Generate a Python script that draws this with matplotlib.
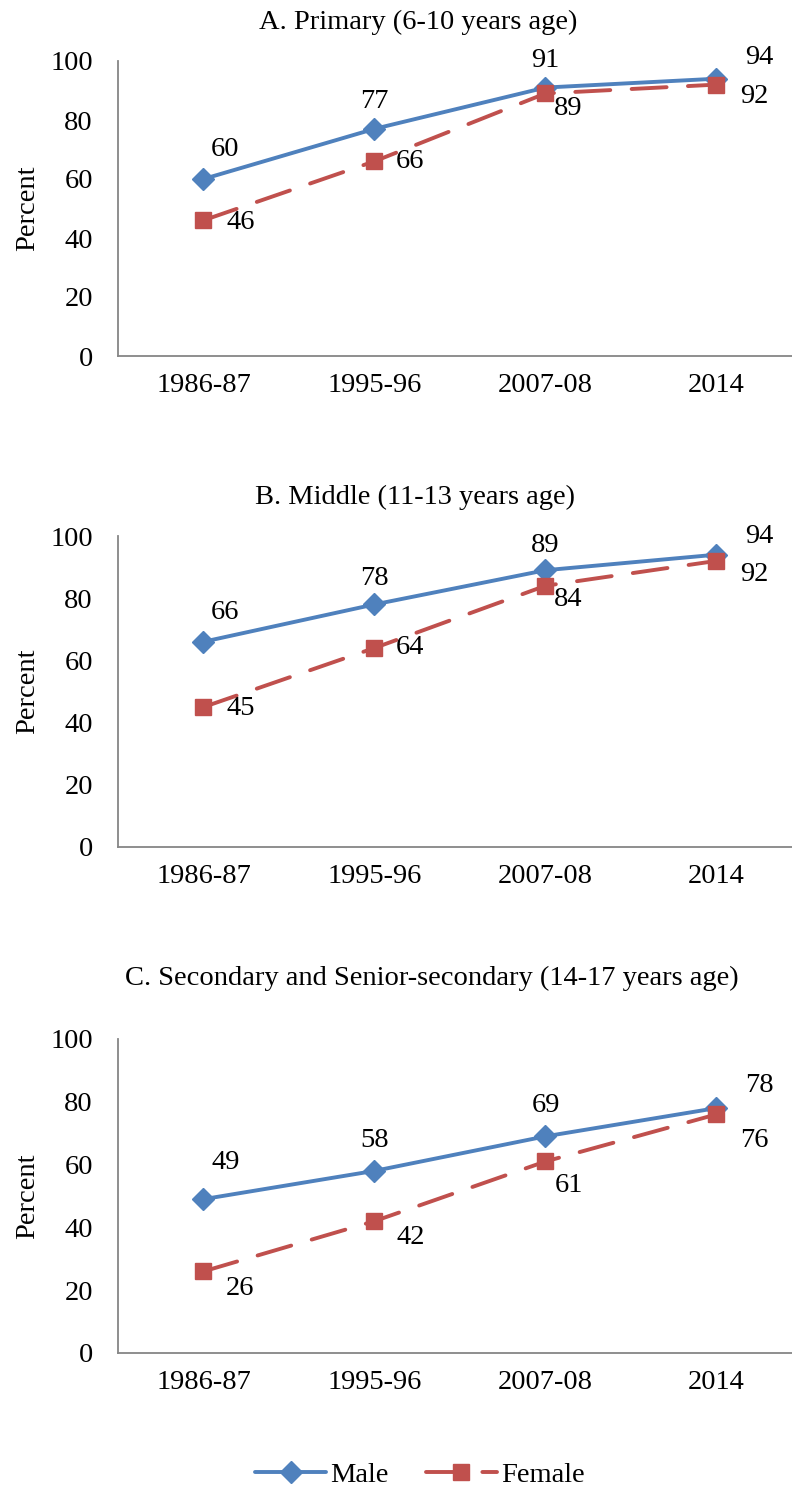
import matplotlib.pyplot as plt

plt.rcParams["font.family"] = ["Liberation Serif", "DejaVu Serif"]

years = ["1986-87", "1995-96", "2007-08", "2014"]
titles = ["A. Primary (6-10 years age)",
          "B. Middle (11-13 years age)",
          "C. Secondary and Senior-secondary (14-17 years age)"]
male = [[60, 77, 91, 94], [66, 78, 89, 94], [49, 58, 69, 78]]
female = [[46, 66, 89, 92], [45, 64, 84, 92], [26, 42, 61, 76]]

# label offsets in pixels (dx, dy), per panel
male_off = [[(22, 29), (0, 27), (0, 27), (43, 21)],
            [(22, 29), (0, 26), (0, 25), (43, 18)],
            [(22, 37), (0, 30), (0, 31), (43, 23)]]
fem_off = [[(37, -2), (36, 0), (23, -15), (38, -12)],
           [(37, -1), (36, 0), (23, -14), (38, -14)],
           [(37, -17), (36, -16), (23, -24), (38, -26)]]

W, H = 792, 1490
blue = "#4F81BD"
red = "#C0504D"
fs = 20.5

fig = plt.figure(figsize=(W / 100, H / 100), dpi=100)

# axes top/bottom in pixels, title y and title centre x
panels = [(61, 356, 22, 418), (536, 847, 497, 415), (1039, 1353, 978, 432)]

for i, (top, bot, ty, tx) in enumerate(panels):
    ax = fig.add_axes([118 / W, 1 - bot / H, 684 / W, (bot - top) / H])
    x = range(len(years))
    ax.plot(x, male[i], color=blue, lw=2.8, marker="D", ms=11.5,
            solid_capstyle="round", label="Male", zorder=2)
    ax.plot(x, female[i], color=red, lw=2.8, marker="s", ms=11,
            dashes=(9, 5.5), dash_capstyle="round", label="Female", zorder=3)
    for j in x:
        dx, dy = male_off[i][j]
        ax.annotate(str(male[i][j]), (j, male[i][j]), xytext=(dx, dy),
                    textcoords="offset pixels", ha="center", va="center",
                    fontsize=fs)
        dx, dy = fem_off[i][j]
        ax.annotate(str(female[i][j]), (j, female[i][j]), xytext=(dx, dy),
                    textcoords="offset pixels", ha="center", va="center",
                    fontsize=fs)
    ax.set_xlim(-0.5, 3.5)
    ax.set_ylim(0, 100)
    ax.set_yticks([0, 20, 40, 60, 80, 100])
    ax.set_xticks(list(x))
    ax.set_xticklabels(years)
    ax.tick_params(length=0, labelsize=fs)
    ax.tick_params(axis="y", pad=18)
    ax.tick_params(axis="x", pad=12)
    for s in ["top", "right"]:
        ax.spines[s].set_visible(False)
    for s in ["left", "bottom"]:
        ax.spines[s].set_color("#868686")
        ax.spines[s].set_linewidth(1.3)
    fig.text(tx / W, 1 - ty / H, titles[i], ha="center", va="center",
             fontsize=fs)
    fig.text(28 / W, 1 - (top + bot) / 2 / H, "Percent", rotation=90,
             ha="center", va="center", fontsize=fs)

handles, labels = ax.get_legend_handles_labels()
fig.legend(handles, labels, loc="center", bbox_to_anchor=(420 / W, 1 - 1475 / H),
           ncol=2, frameon=False, fontsize=fs, handlelength=2.5,
           handletextpad=0.15, columnspacing=1.3)

fig.savefig("out.png", dpi=100)
